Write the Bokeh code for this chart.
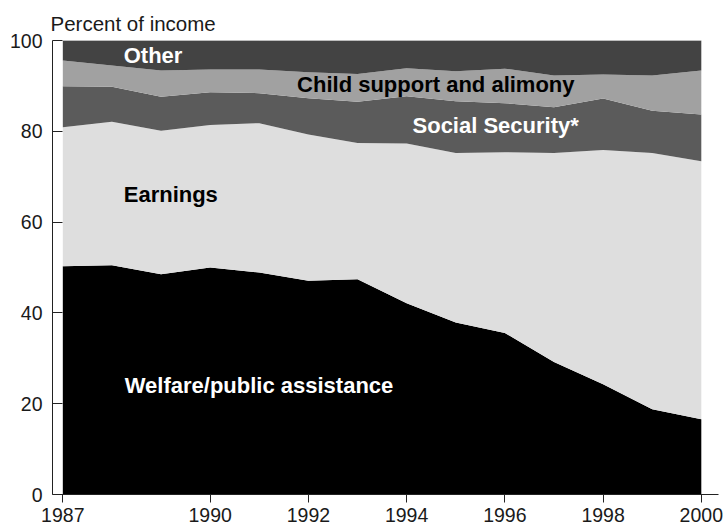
from bokeh.plotting import figure
from bokeh.models import ColumnDataSource, FixedTicker, Label
from bokeh.embed import file_html
from bokeh.resources import INLINE

years = [1987, 1988, 1989, 1990, 1991, 1992, 1993, 1994, 1995, 1996, 1997, 1998, 1999, 2000]
welfare = [50.3, 50.5, 48.5, 50.0, 48.9, 47.1, 47.4, 42.1, 37.9, 35.6, 29.2, 24.3, 18.8, 16.6]
earnings = [30.6, 31.6, 31.6, 31.4, 32.9, 32.2, 30.0, 35.2, 37.3, 39.8, 46.0, 51.6, 56.4, 56.8]
social_security = [9.0, 7.7, 7.5, 7.2, 6.6, 8.0, 9.1, 10.4, 11.4, 10.8, 10.1, 11.3, 9.3, 10.3]
child_support = [5.7, 4.7, 5.8, 5.0, 5.2, 5.7, 6.1, 6.2, 6.6, 7.6, 7.0, 5.3, 7.8, 9.7]
other = [4.4, 5.5, 6.6, 6.4, 6.4, 7.0, 7.4, 6.1, 6.8, 6.2, 7.7, 7.5, 7.7, 6.6]

series_names = ["welfare", "earnings", "social_security", "child_support", "other"]
series_labels = ["Welfare/public assistance", "Earnings", "Social Security*",
                 "Child support and alimony", "Other"]
colors = ["#000000", "#dedede", "#5b5b5b", "#a1a1a1", "#434343"]
x_ticks = [1987, 1990, 1992, 1994, 1996, 1998, 2000]
y_ticks = [0, 20, 40, 60, 80, 100]

source = ColumnDataSource(dict(year=years, welfare=welfare, earnings=earnings,
                               social_security=social_security,
                               child_support=child_support, other=other))
total = [sum(v) for v in zip(welfare, earnings, social_security, child_support, other)]

p = figure(width=725, height=528, x_range=(1986.79, 2000.35), y_range=(0, 100),
           output_backend="svg", toolbar_location=None,
           min_border_left=52, min_border_right=7, min_border_top=40, min_border_bottom=34)

p.varea_stack(stackers=series_names, x="year", color=colors, source=source)
p.line(years, total, line_color="#aaaaaa", line_width=1)

FONT = "Liberation Sans"

p.title.text = "Percent of income"
p.title.text_font = FONT
p.title.text_font_style = "normal"
p.title.text_font_size = "20.5px"
p.title.text_color = "#1a1a1a"
p.title.align = "left"
p.title.offset = -2
p.title.standoff = 12

p.grid.visible = False
p.outline_line_color = None

p.xaxis.ticker = FixedTicker(ticks=x_ticks)
p.yaxis.ticker = FixedTicker(ticks=y_ticks)
for ax in (p.xaxis[0], p.yaxis[0]):
    ax.minor_tick_line_color = None
    ax.axis_line_color = "#222222"
    ax.major_tick_line_color = "#222222"
    ax.major_label_text_font = FONT
    ax.major_label_text_font_size = "19.5px"
    ax.major_label_text_color = "#1a1a1a"

p.xaxis.major_tick_out = 8
p.xaxis.major_tick_in = 0
p.xaxis.major_label_standoff = 5
p.yaxis.major_tick_out = 0
p.yaxis.major_tick_in = 10
p.yaxis.major_label_standoff = 10

label_specs = [
    ("Other", 1988.24, 96.6, "white"),
    ("Child support and alimony", 1991.77, 90.2, "black"),
    ("Social Security*", 1994.12, 81.2, "white"),
    ("Earnings", 1988.24, 66.0, "black"),
    ("Welfare/public assistance", 1988.26, 24.0, "white"),
]
for txt, lx, ly, col in label_specs:
    p.add_layout(Label(x=lx, y=ly, text=txt, text_font=FONT, text_font_style="bold",
                       text_font_size="22px", text_color=col, text_align="left",
                       text_baseline="alphabetic"))

open("out.html", "w").write(file_html(p, INLINE))
